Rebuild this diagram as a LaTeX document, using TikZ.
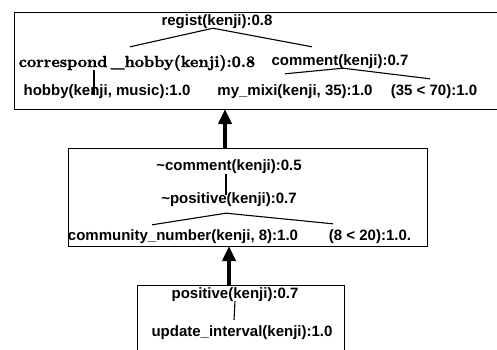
\documentclass[tikz,border=0pt]{standalone}
\usepackage{fontspec}
\setsansfont{Liberation Sans}
\newfontfamily\lmbf{lmroman10-bold.otf}[FakeBold=1.6]
\usetikzlibrary{arrows.meta, calc}
\tikzset{
	lit/.style   ={inner sep=0pt, font=\sffamily\bfseries\fontsize{15}{18}\selectfont},
	litrm/.style ={inner sep=0pt, font=\lmbf\fontsize{16}{19}\selectfont},
	frame/.style ={draw=black, line width=0.9pt, inner sep=0pt, outer sep=0pt},
	edge/.style  ={line width=1.1pt},
	infer/.style ={-{Triangle[length=15pt, width=13pt]}, line width=4.5pt},
}

\begin{document}
\begin{tikzpicture}[x=1pt, y=-1pt]
	\useasboundingbox (0,0) rectangle (497,349);
	\clip (0,0) rectangle (497,349);
	% boxes
	\node[frame, minimum width=491pt, minimum height=97pt] (topbox) at (259.5,60.5) {};
	\node[frame, minimum width=359pt, minimum height=98pt] (midbox) at (247.5,197) {};
	\node[frame, minimum width=207pt, minimum height=75pt] (botbox) at (240.5,322.5) {};
	% top tree
	\node[lit] (regist) at (217,22) {regist(kenji):0.8};
	\node[litrm] (corr) at (137,63) {correspond\hspace{0.2em}\_hobby(kenji):0.8};
	\node[lit] (comm7) at (340,62) {comment(kenji):0.7};
	\node[lit] (hobby) at (107,92) {hobby(kenji, music):1.0};
	\node[lit] (mixi) at (295,92) {my\_mixi(kenji, 35):1.0};
	\node[lit] (ineq1) at (434,92) {(35 < 70):1.0};
	\draw[edge] ($(corr.north)+(-7,-8)$) -- ($(regist.south)+(-4,-1)$) -- ($(comm7.north)+(-28,-8)$);
	\draw[edge] ($(corr.south)+(-43,-1)$) -- ($(hobby.north)+(-13,10)$);
	\draw[edge] ($(mixi.north)+(-10,-11)$) -- ($(comm7.south)+(3,-1)$) -- ($(ineq1.north)+(-4,-6)$);
	% middle tree
	\node[lit] (ncomm) at (229,167) {\textasciitilde comment(kenji):0.5};
	\node[lit] (npos) at (229,200) {\textasciitilde positive(kenji):0.7};
	\node[lit] (cnum) at (183,237) {community\_number(kenji, 8):1.0};
	\node[lit] (ineq2) at (370,237) {(8 < 20):1.0.};
	\draw[edge] ($(ncomm.south)+(-3,0)$) -- ($(npos.north)+(-3,2)$);
	\draw[edge] ($(cnum.north)+(-31,-5)$) -- ($(npos.south)+(-3,6)$) -- ($(ineq2.north)+(-37,-6)$);
	% bottom tree
	\node[lit] (pos) at (235,295) {positive(kenji):0.7};
	\node[lit] (upd) at (242,333) {update\_interval(kenji):1.0};
	\draw[edge] ($(pos.south)+(0,-1)$) -- ($(upd.north)+(-8,-6)$);
	% inference arrows
	\draw[infer] ([xshift=-22.5pt]midbox.north) -- ([xshift=-34.5pt]topbox.south);
	\draw[infer] ([xshift=-11.5pt]botbox.north) -- ([xshift=-18.5pt]midbox.south);
\end{tikzpicture}
\end{document}
